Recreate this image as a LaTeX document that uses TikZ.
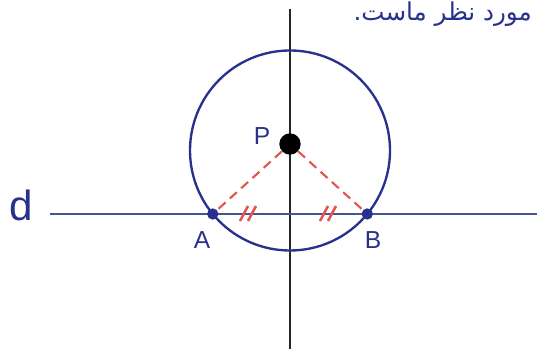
\documentclass[tikz,border=0pt]{standalone}
\usepackage{fontspec}
\setsansfont{Liberation Sans}
\newfontfamily\farsifont[Script=Arabic]{DejaVu Sans}
\TeXXeTstate=1
\usetikzlibrary{math}
\definecolor{myblue}{RGB}{40,50,140}
\definecolor{lineblue}{RGB}{70,85,150}
\definecolor{myred}{RGB}{225,85,75}

\begin{document}
\begin{tikzpicture}[x=0.03cm,y=-0.03cm]
\tikzmath{
\xc=290;
\yc=150.5;%circle centre
\R=100;%radius
\yd=214;%line d
\dx=sqrt(\R*\R-(\yd-\yc)*(\yd-\yc));
}
\useasboundingbox (0,0) rectangle (537,349);
\fill[white] (0,0) rectangle (537,349);

\draw[line width=1.4,color=black!85] (\xc,9) -- (\xc,349);
\draw[line width=1.6,color=lineblue] (50,\yd) -- (537,\yd);
\draw[line width=2,color=myblue] (\xc,\yc) circle[radius=\R];

\node[circle,fill=black,inner sep=0,minimum size=0.64cm] (P) at (\xc,144) {};
\node[circle,fill=myblue,inner sep=0,minimum size=0.34cm] (A) at (\xc-\dx,\yd) {};
\node[circle,fill=myblue,inner sep=0,minimum size=0.34cm] (B) at (\xc+\dx,\yd) {};

\draw[myred,line width=1.8,dash pattern=on 8pt off 5pt] (P) -- (A);
\draw[myred,line width=1.8,dash pattern=on 8pt off 5pt] (P) -- (B);

\foreach \x in {244,252,324,332}
  \draw[myred,line width=2.2] (\x-4,221) -- (\x+4,206);

\node[text=myblue,font=\sffamily\fontsize{21}{21}\selectfont] (labP) at (262,136) {P};
\node[text=myblue,font=\sffamily\fontsize{21}{21}\selectfont] (labA) at (202,240) {A};
\node[text=myblue,font=\sffamily\fontsize{21}{21}\selectfont] (labB) at (373,240) {B};
\node[text=myblue,font=\sffamily\fontsize{36}{36}\selectfont] (labd) at (21,205) {d};

\node[anchor=north east,text=myblue,font=\farsifont\fontsize{21}{21}\selectfont] (note) at (536,-2) {\beginR مورد نظر ماست.\endR};
\end{tikzpicture}
\end{document}
